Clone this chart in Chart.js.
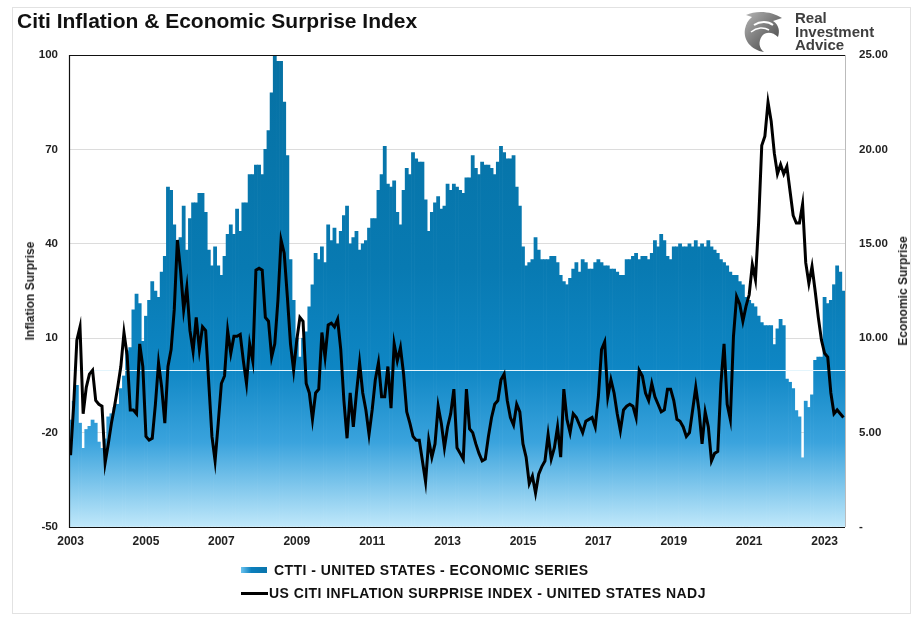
<!doctype html>
<html lang="en">
  <head>
    <meta charset="utf-8">
    <title>Citi Inflation &amp; Economic Surprise Index</title>
    <style>
      * {
        margin: 0;
        padding: 0;
      }
      body {
        width: 922px;
        height: 623px;
        position: relative;
        overflow: hidden;
        background: #fff;
        font-family: "Liberation Sans", Arial, sans-serif;
      }
      .frame {
        position: absolute;
        left: 12px;
        top: 7px;
        width: 897px;
        height: 605px;
        border: 1px solid #e2e2e2;
      }
      canvas {
        position: absolute;
        left: 0;
        top: 0;
      }
      .title {
        position: absolute;
        left: 17px;
        top: 9px;
        font-size: 21px;
        font-weight: bold;
        color: #111;
        white-space: nowrap;
      }
      .logo {
        position: absolute;
        left: 742px;
        top: 9px;
      }
      .logoText {
        position: absolute;
        left: 795px;
        top: 11px;
        font-size: 15px;
        line-height: 13.5px;
        font-weight: bold;
        color: #3f3f3f;
      }
      .axisTitle {
        position: absolute;
        font-size: 12px;
        font-weight: bold;
        color: #222;
        white-space: nowrap;
        transform: translate(-50%, -50%) rotate(-90deg);
      }
      .legendRow {
        position: absolute;
        left: 241px;
        font-size: 14px;
        letter-spacing: 0.45px;
        font-weight: bold;
        color: #111;
        white-space: nowrap;
        display: flex;
        align-items: center;
      }
      .swatchBar {
        width: 26px;
        height: 6px;
        margin-right: 7px;
        background: linear-gradient(to right, #6cc4f0, #0b7fbd 40%, #0a74ab);
      }
      .swatchLine {
        width: 27px;
        height: 3px;
        margin-right: 1px;
        background: #000;
      }
    </style>
  </head>
  <body>
    <div class="frame"></div>
    <canvas id="myChart" width="922" height="623"></canvas>
    <div class="title">Citi Inflation &amp; Economic Surprise Index</div>
    <svg class="logo" width="42" height="44" viewBox="0 0 42 44">
      <defs>
        <linearGradient id="lg" x1="0" y1="0" x2="1" y2="1">
          <stop offset="0" stop-color="#b5b5b5"/>
          <stop offset="1" stop-color="#3a3a3a"/>
        </linearGradient>
      </defs>
      <path d="M4 6 C14 1 30 2 40 9 L31 12 C37 16 38 22 36 28 C31 23 24 22 20 27 C16 33 17 39 22 43 C9 41 1 31 3 20 C4 15 6 11 10 8 Z" fill="url(#lg)"/>
      <path d="M12 16 C18 12 26 12 31 16" stroke="#fff" stroke-width="2" fill="none"/>
      <path d="M9 23 C15 18 22 18 27 21" stroke="#fff" stroke-width="1.5" fill="none"/>
    </svg>
    <div class="logoText">Real<br>Investment<br>Advice</div>
    <div class="axisTitle" style="left:30px; top:291px;">Inflation Surprise</div>
    <div class="axisTitle" style="left:903px; top:291px;">Economic Surprise</div>
    <div class="legendRow" style="top:562px;"><span class="swatchBar"></span>CTTI - UNITED STATES - ECONOMIC SERIES</div>
    <div class="legendRow" style="top:585px;"><span class="swatchLine"></span>US CITI INFLATION SURPRISE INDEX - UNITED STATES NADJ</div>

    <script src="https://cdn.jsdelivr.net/npm/chart.js"></script>
    <script>
    // monthly data, Jan 2003 .. Jul 2023
    const startYear = 2003;
    const tickYears = ['2003', '2005', '2007', '2009', '2011', '2013', '2015', '2017', '2019', '2021', '2023'];

    // CTTI - United States - Economic Series (left axis)
    const economicSeries = [
      -16, -10, -5, -17, -25, -19, -18, -16, -17, -23,
      -25, -22, -15, -14, -12, -11, -6, -2, 6, 7,
      19, 24, 21, 9, 17, 22, 28, 25, 23, 31,
      36, 58, 57, 46, 38, 42, 52, 38, 48, 53,
      53, 56, 56, 50, 38, 33, 39, 33, 30, 36,
      43, 46, 43, 51, 44, 53, 53, 62, 62, 65,
      65, 62, 70, 76, 88, 100, 98, 98, 85, 68,
      35, 22, 10, 4, 10, 12, 20, 27, 37, 35,
      39, 34, 46, 41, 45, 40, 44, 49, 52, 40,
      42, 44, 38, 40, 41, 45, 48, 48, 57, 62,
      71, 59, 58, 60, 50, 46, 57, 64, 62, 69,
      67, 66, 66, 54, 44, 50, 53, 55, 51, 52,
      59, 57, 59, 58, 57, 56, 61, 61, 68, 64,
      62, 66, 65, 65, 64, 62, 66, 71, 69, 67,
      67, 68, 58, 52, 39, 33, 34, 35, 42, 38,
      35, 35, 35, 36, 36, 34, 30, 28, 27, 29,
      32, 34, 31, 35, 34, 32, 32, 34, 35, 34,
      33, 33, 32, 32, 31, 30, 30, 35, 35, 36,
      37, 35, 36, 36, 35, 37, 41, 39, 43, 41,
      36, 35, 39, 39, 40, 39, 39, 40, 39, 41,
      39, 40, 39, 41, 39, 38, 37, 35, 34, 33,
      31, 30, 30, 28, 27, 23, 22, 21, 20, 17,
      15, 14, 14, 14, 8, 13, 16, 14, -3, -4,
      -6, -13, -15, -28, -10, -12, -8, 3, 4, 4,
      23, 21, 22, 27, 33, 31, 25
    ];

    // US Citi Inflation Surprise Index - United States NADJ (right axis)
    const inflationSurprise = [
      3.8, 6.5, 9.9, 10.6, 6.0, 7.4, 8.1, 8.3, 6.7, 6.5,
      6.4, 3.4, 4.4, 5.5, 6.4, 7.4, 8.5, 10.3, 9.1, 6.2,
      6.2, 6.0, 9.7, 8.5, 4.8, 4.6, 4.7, 6.5, 8.7, 7.4,
      5.5, 8.5, 9.4, 11.5, 15.2, 13.6, 11.5, 12.7, 10.4, 9.3,
      11.1, 9.4, 10.6, 10.4, 7.6, 4.8, 3.5, 5.5, 7.6, 8.0,
      10.4, 9.2, 10.1, 10.1, 10.2, 8.8, 7.6, 9.7, 8.8, 13.6,
      13.7, 13.6, 11.1, 10.9, 9.0, 9.7, 12.0, 15.2, 14.5, 12.2,
      9.7, 8.3, 9.9, 11.1, 10.9, 7.6, 7.1, 5.7, 7.1, 7.3,
      10.3, 9.0, 10.7, 10.8, 10.6, 11.0, 9.4, 6.7, 4.7, 7.1,
      5.3, 7.1, 8.7, 7.1, 6.2, 4.9, 6.2, 7.8, 8.7, 6.9,
      6.9, 8.5, 6.3, 9.7, 8.8, 9.5, 8.1, 6.1, 5.5, 4.8,
      4.6, 4.6, 3.5, 2.4, 4.6, 3.7, 4.4, 6.4, 5.5, 4.2,
      5.3, 6.0, 7.3, 4.2, 3.9, 3.6, 7.3, 5.2, 5.0, 4.4,
      3.9, 3.5, 3.6, 4.8, 5.8, 6.5, 6.7, 7.8, 8.1, 6.7,
      5.8, 5.4, 6.5, 6.1, 4.4, 3.7, 2.3, 2.7, 1.8, 2.8,
      3.2, 3.5, 4.9, 3.6, 4.2, 5.3, 3.7, 7.3, 5.7, 5.0,
      6.0, 5.8, 5.4, 5.0, 5.6, 5.7, 5.8, 5.3, 6.9, 9.4,
      9.8, 6.9, 7.8, 7.1, 6.0, 5.1, 6.2, 6.4, 6.5, 6.4,
      5.8, 8.3, 8.0, 7.1, 6.7, 7.6, 6.9, 6.5, 6.1, 6.2,
      7.3, 7.3, 6.7, 5.7, 5.6, 5.3, 4.8, 5.0, 6.2, 7.4,
      6.2, 4.4, 6.1, 5.3, 3.5, 3.9, 4.0, 7.6, 9.7, 6.5,
      5.7, 10.1, 12.2, 11.8, 10.9, 11.7, 12.3, 13.9, 13.1, 16.1,
      20.2, 20.7, 22.5, 21.5, 19.8, 18.7, 19.2, 18.7, 19.1, 17.8,
      16.5, 16.1, 16.1, 17.1, 14.0, 12.9, 13.8, 12.5, 11.1, 9.9,
      9.2, 9.0, 7.1, 6.0, 6.2, 6.0, 5.8
    ];

    const months = [];
    for (let i = 0; i < economicSeries.length; i++) {
      months.push(`${startYear + Math.floor(i / 12)}-${String(i % 12 + 1).padStart(2, '0')}`);
    }

    const tickFont = { family: '"Liberation Sans", Arial, sans-serif', size: 11.5, weight: 'bold' };

    // vertical gradient over the chart area
    let gradCache = null;
    function barGradient(context) {
      const { ctx, chartArea } = context.chart;
      if (!chartArea) return '#0a78b0';
      const key = chartArea.top + ':' + chartArea.bottom;
      if (gradCache && gradCache.key === key) return gradCache.g;
      const g = ctx.createLinearGradient(0, chartArea.top, 0, chartArea.bottom);
      g.addColorStop(0, '#0671a3');
      g.addColorStop(0.45, '#087ab2');
      g.addColorStop(0.66, '#0e86c4');
      g.addColorStop(0.82, '#3aa3dd');
      g.addColorStop(1, '#c0e8fa');
      gradCache = { key, g };
      return g;
    }

    const framePlugin = {
      id: 'frame',
      afterDatasetDraw(chart, args) {
        if (args.index !== 0) return;
        const { ctx, chartArea: a, scales: { y } } = chart;
        const y0 = Math.round(y.getPixelForValue(0)) + 0.5;
        ctx.save();
        ctx.strokeStyle = '#e4f5fc';
        ctx.lineWidth = 1;
        ctx.beginPath();
        ctx.moveTo(a.left, y0);
        ctx.lineTo(a.right, y0);
        ctx.stroke();
        ctx.restore();
      },
      afterDraw(chart) {
        const { ctx, chartArea: a } = chart;
        ctx.save();
        ctx.strokeStyle = '#111';
        ctx.lineWidth = 1.2;
        ctx.beginPath();
        ctx.moveTo(a.right, a.top + 0.5);
        ctx.lineTo(a.left + 0.5, a.top + 0.5);
        ctx.lineTo(a.left + 0.5, a.bottom + 0.5);
        ctx.lineTo(a.right, a.bottom + 0.5);
        ctx.stroke();
        ctx.strokeStyle = '#bbb';
        ctx.lineWidth = 1;
        ctx.beginPath();
        ctx.moveTo(a.right + 0.5, a.top);
        ctx.lineTo(a.right + 0.5, a.bottom);
        ctx.stroke();
        ctx.restore();
      }
    };

    const data = {
      labels: months,
      datasets: [{
        label: 'CTTI - UNITED STATES - ECONOMIC SERIES',
        type: 'bar',
        data: economicSeries,
        base: -50,
        backgroundColor: barGradient,
        borderWidth: 0,
        barPercentage: 1.0,
        categoryPercentage: 1.0,
        yAxisID: 'y',
        order: 1
      }, {
        label: 'US CITI INFLATION SURPRISE INDEX - UNITED STATES NADJ',
        type: 'line',
        data: inflationSurprise,
        borderColor: '#000',
        borderWidth: 3,
        pointRadius: 0,
        tension: 0,
        fill: false,
        yAxisID: 'y2',
        order: 0
      }]
    };

    const config = {
      type: 'bar',
      data,
      options: {
        responsive: false,
        animation: false,
        layout: { padding: { top: 55, bottom: 72, left: 0, right: 0 } },
        plugins: {
          legend: { display: false },
          tooltip: { enabled: false }
        },
        scales: {
          x: {
            offset: true,
            grid: { display: false, drawTicks: false },
            border: { display: false },
            ticks: {
              autoSkip: false,
              maxRotation: 0,
              minRotation: 0,
              padding: 7,
              color: '#222',
              font: { family: '"Liberation Sans", Arial, sans-serif', size: 12, weight: 'bold' },
              callback: function(val) {
                const lab = this.getLabelForValue(val);
                const yr = lab.slice(0, 4);
                return lab.endsWith('-01') && tickYears.includes(yr) ? yr : null;
              }
            },
            afterFit: s => { s.height = 24; }
          },
          y: {
            position: 'left',
            min: -50,
            max: 100,
            ticks: { stepSize: 30, padding: 11, color: '#222', font: tickFont },
            grid: { color: '#dcdcdc', drawTicks: false },
            border: { display: false },
            afterFit: s => { s.width = 69; }
          },
          y2: {
            position: 'right',
            min: 0,
            max: 25,
            ticks: {
              stepSize: 5,
              padding: 14,
              color: '#222',
              font: tickFont,
              callback: v => v === 0 ? '-' : v.toFixed(2)
            },
            grid: { display: false, drawTicks: false },
            border: { display: false },
            afterFit: s => { s.width = 77; }
          }
        }
      },
      plugins: [framePlugin]
    };

    const myChart = new Chart(document.getElementById('myChart'), config);
    </script>
  </body>
</html>
